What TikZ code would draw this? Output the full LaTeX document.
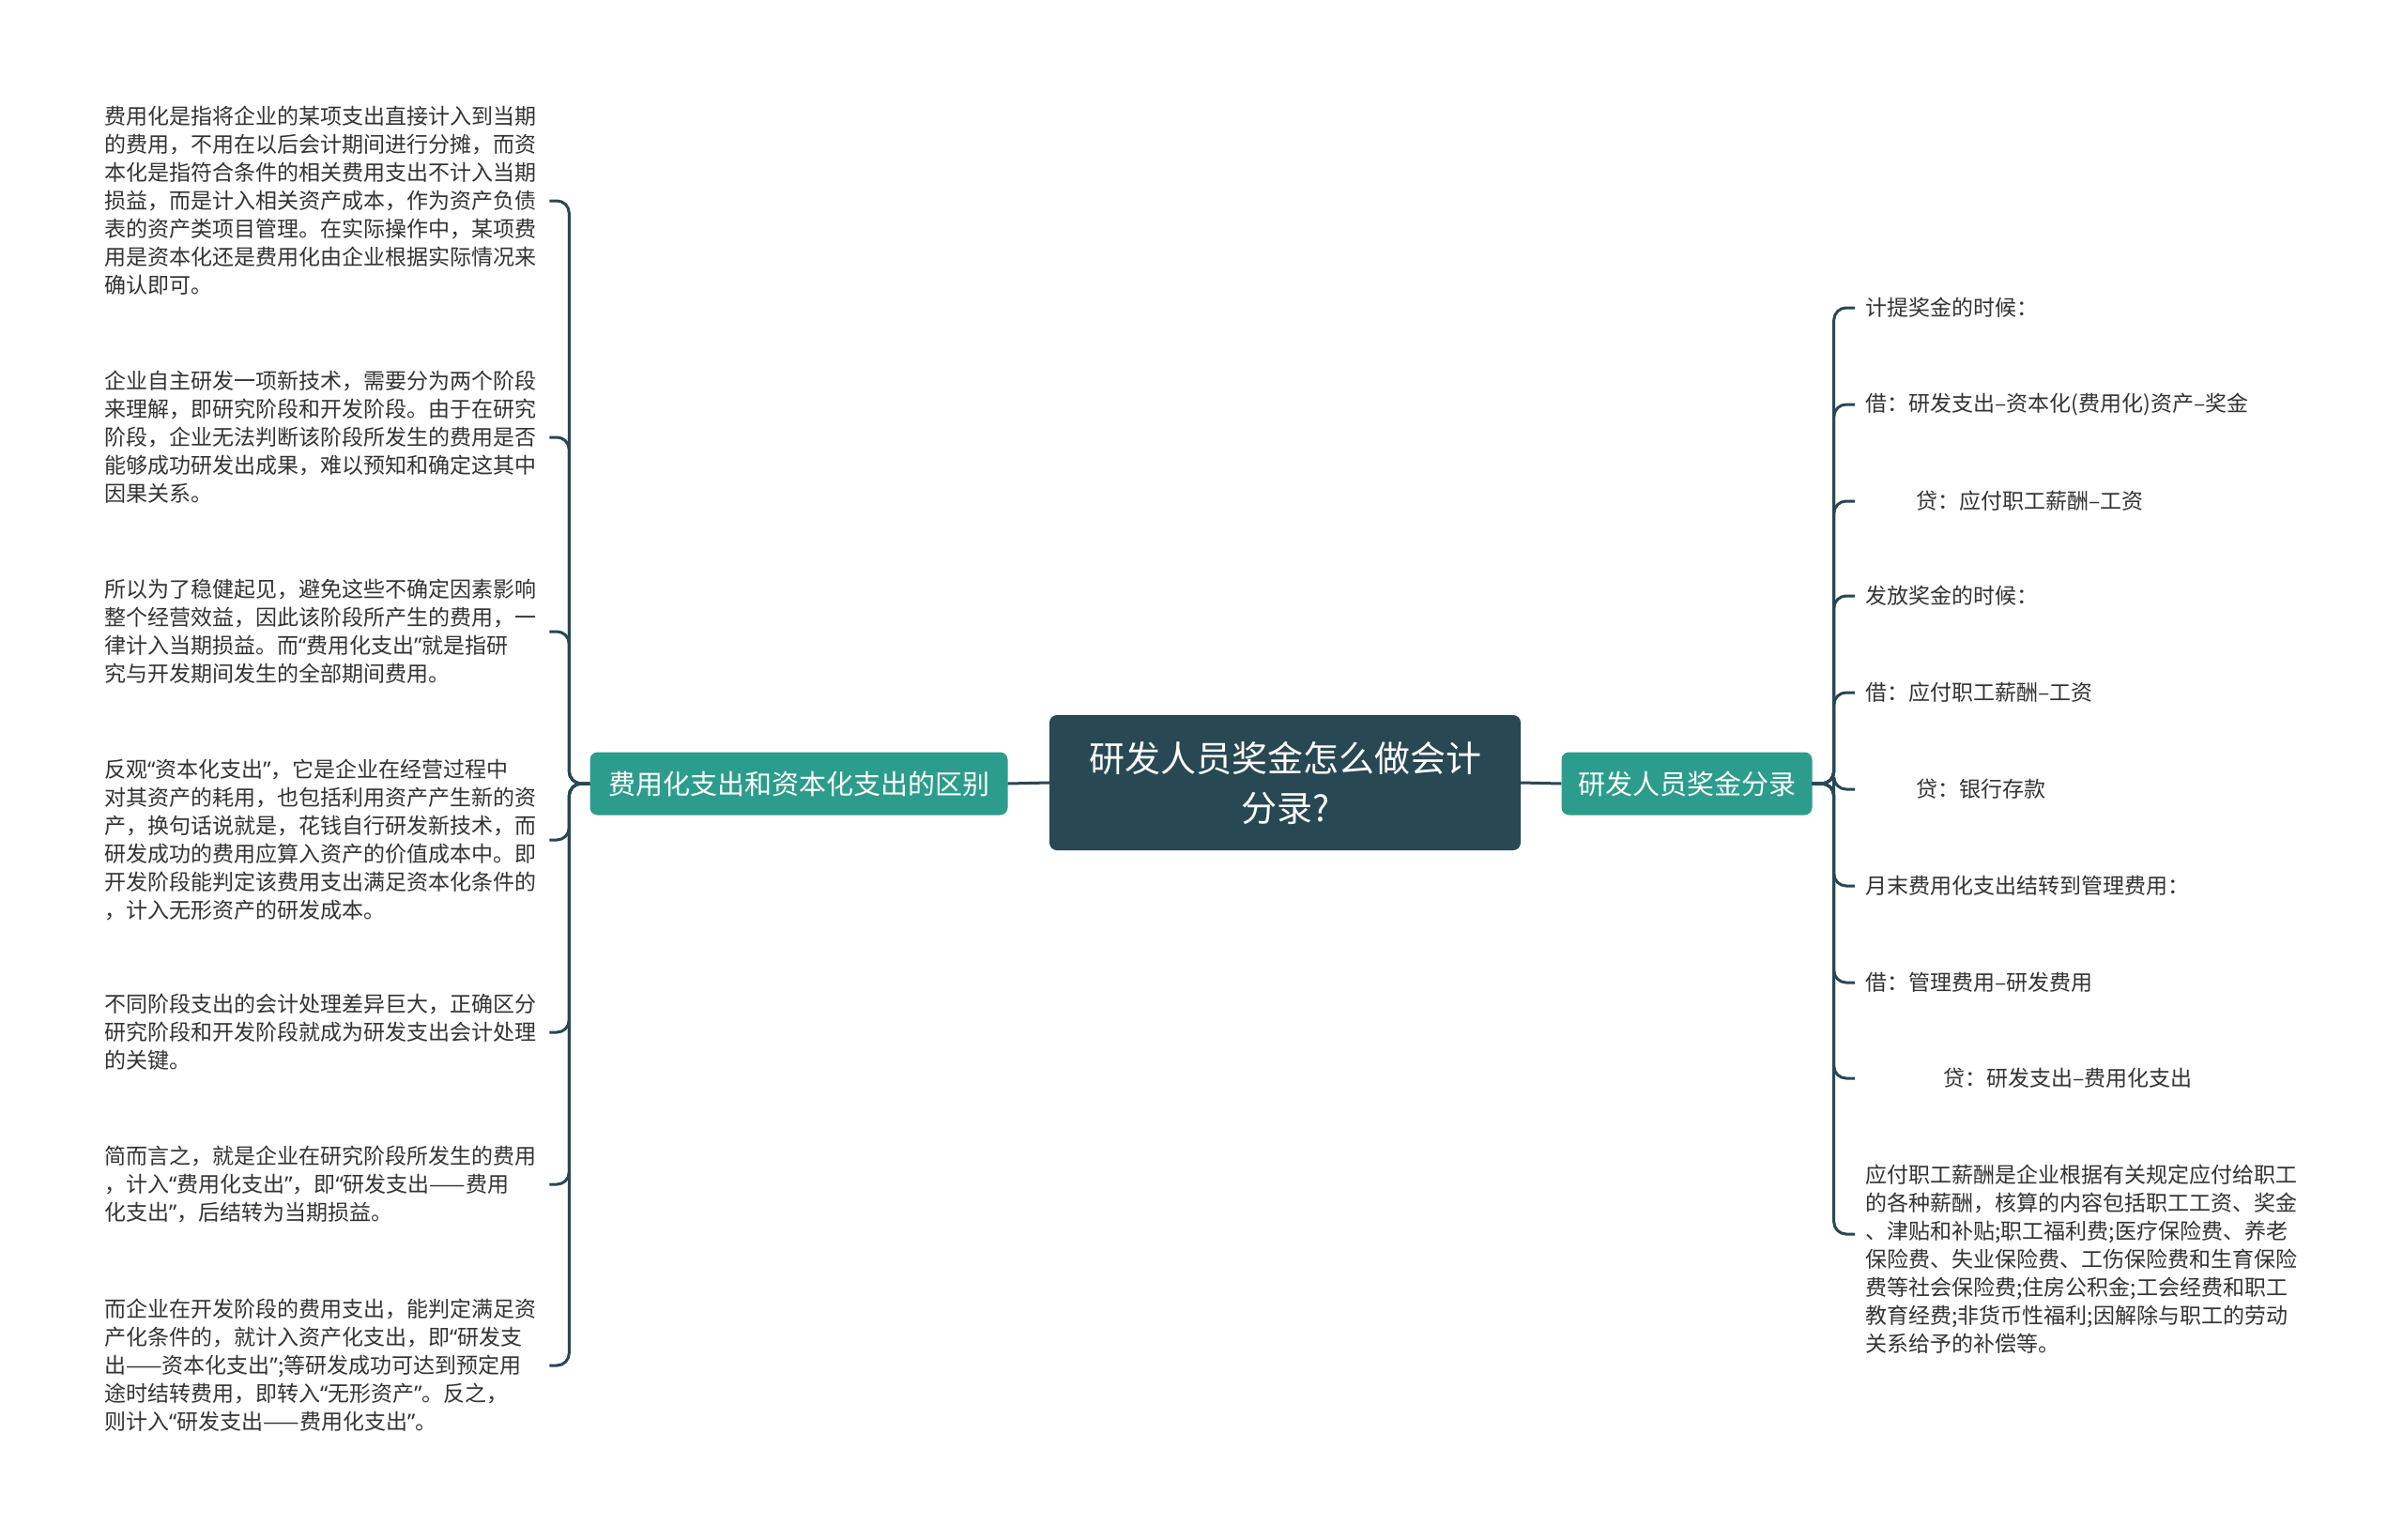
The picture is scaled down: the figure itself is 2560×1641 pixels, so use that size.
\documentclass[tikz,border=0pt]{standalone}
\usepackage{fontspec}
\newfontfamily\cjk{Noto Sans CJK SC}
\newfontfamily\latq{Noto Sans}
\newcommand\myqo{{\latq “}}
\newcommand\myqc{{\latq ”}}
\usetikzlibrary{calc}
\definecolor{darkc}{HTML}{284853}
\definecolor{tealc}{HTML}{2C9D8C}
\definecolor{linec}{HTML}{284853}
\definecolor{txtc}{HTML}{333333}
\begin{document}
\begin{tikzpicture}[x=1pt,y=-1pt,
  conn/.style={draw=linec, line width=3pt, rounded corners=13pt},
  leaf/.style={font=\cjk\fontsize{23}{30}\selectfont, text=txtc, align=left, text width=520pt, inner sep=0pt, anchor=west},
  rleaf/.style={font=\cjk\fontsize{23}{30}\selectfont, text=txtc, align=left, inner sep=0pt, anchor=west},
  rootbox/.style={fill=darkc, rounded corners=8pt, minimum width=502pt, minimum height=144pt, text=white, align=center, font=\cjk\fontsize{38}{53}\selectfont, inner sep=0pt},
  branchbox/.style={fill=tealc, rounded corners=8pt, minimum height=67pt, text=white, align=center, font=\cjk\fontsize{29}{36}\selectfont, inner sep=0pt}]
\fill[white] (0,0) rectangle (2560,1641);
\useasboundingbox (0,0) rectangle (2560,1641);

\node[rootbox] (root) at (1369,834) {研发人员奖金怎么做会计\\分录?};
\node[branchbox, minimum width=445pt] (bl) at (851,835) {费用化支出和资本化支出的区别};
\node[branchbox, minimum width=267pt] (br) at (1797,835) {研发人员奖金分录};

\draw[linec, line width=3pt] (root.west) -- (bl.east);
\draw[linec, line width=3pt] (root.east) -- (br.west);

% left leaves
\node[leaf] (l1) at (111,214) {费用化是指将企业的某项支出直接计入到当期\\的费用，不用在以后会计期间进行分摊，而资\\本化是指符合条件的相关费用支出不计入当期\\损益，而是计入相关资产成本，作为资产负债\\表的资产类项目管理。在实际操作中，某项费\\用是资本化还是费用化由企业根据实际情况来\\确认即可。};
\node[leaf] (l2) at (111,466) {企业自主研发一项新技术，需要分为两个阶段\\来理解，即研究阶段和开发阶段。由于在研究\\阶段，企业无法判断该阶段所发生的费用是否\\能够成功研发出成果，难以预知和确定这其中\\因果关系。};
\node[leaf] (l3) at (111,673) {所以为了稳健起见，避免这些不确定因素影响\\整个经营效益，因此该阶段所产生的费用，一\\律计入当期损益。而\myqo 费用化支出\myqc 就是指研\\究与开发期间发生的全部期间费用。};
\node[leaf] (l4) at (111,895) {反观\myqo 资本化支出\myqc ，它是企业在经营过程中\\对其资产的耗用，也包括利用资产产生新的资\\产，换句话说就是，花钱自行研发新技术，而\\研发成功的费用应算入资产的价值成本中。即\\开发阶段能判定该费用支出满足资本化条件的\\，计入无形资产的研发成本。};
\node[leaf] (l5) at (111,1100) {不同阶段支出的会计处理差异巨大，正确区分\\研究阶段和开发阶段就成为研发支出会计处理\\的关键。};
\node[leaf] (l6) at (111,1262) {简而言之，就是企业在研究阶段所发生的费用\\，计入\myqo 费用化支出\myqc ，即\myqo 研发支出——费用\\化支出\myqc ，后结转为当期损益。};
\node[leaf] (l7) at (111,1455) {而企业在开发阶段的费用支出，能判定满足资\\产化条件的，就计入资产化支出，即\myqo 研发支\\出——资本化支出\myqc ;等研发成功可达到预定用\\途时结转费用，即转入\myqo 无形资产\myqc 。反之，\\则计入\myqo 研发支出——费用化支出\myqc 。};

\foreach \n in {l1,l2,l3,l4,l5,l6,l7}
  \draw[conn] (bl.west) -- ++(-22,0) |- ($(\n.east)+(-46,0)$);

% right leaves
\node[rleaf] (r1) at (1987,328) {计提奖金的时候：};
\node[rleaf] (r2) at (1987,431) {借：研发支出–资本化(费用化)资产–奖金};
\node[rleaf] (r3) at (1987,534) {\hspace*{54pt}贷：应付职工薪酬–工资};
\node[rleaf] (r4) at (1987,635) {发放奖金的时候：};
\node[rleaf] (r5) at (1987,738) {借：应付职工薪酬–工资};
\node[rleaf] (r6) at (1987,841) {\hspace*{54pt}贷：银行存款};
\node[rleaf] (r7) at (1987,944) {月末费用化支出结转到管理费用：};
\node[rleaf] (r8) at (1987,1047) {借：管理费用–研发费用};
\node[rleaf] (r9) at (1987,1149) {\hspace*{83pt}贷：研发支出–费用化支出};
\node[rleaf] (r10) at (1987,1342) {应付职工薪酬是企业根据有关规定应付给职工\\的各种薪酬，核算的内容包括职工工资、奖金\\、津贴和补贴;职工福利费;医疗保险费、养老\\保险费、失业保险费、工伤保险费和生育保险\\费等社会保险费;住房公积金;工会经费和职工\\教育经费;非货币性福利;因解除与职工的劳动\\关系给予的补偿等。};
\coordinate (r10c) at (1976,1315);

\foreach \n in {r1,r2,r3,r4,r5,r6,r7,r8,r9}
  \draw[conn] (br.east) -- ++(23,0) |- ($(\n.west)+(-11,0)$);
\draw[conn] (br.east) -- ++(23,0) |- (r10c);
\end{tikzpicture}
\end{document}
